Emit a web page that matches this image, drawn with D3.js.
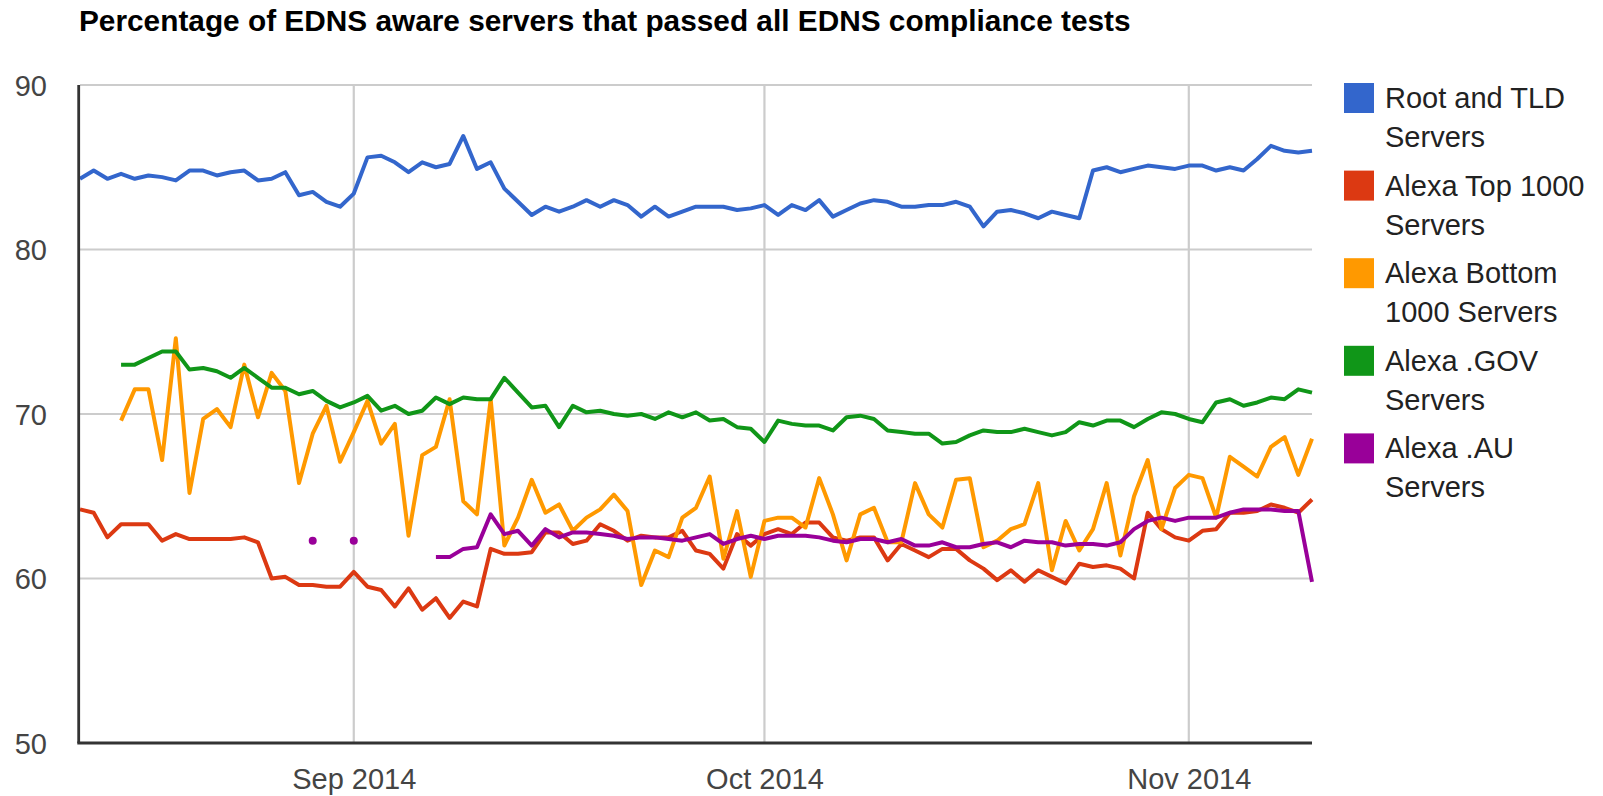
<!DOCTYPE html>
<html>
<head>
<meta charset="utf-8">
<script src="https://cdn.jsdelivr.net/npm/d3@7"></script>
<style>
  body { margin: 0; background: #fff; }
  svg { font-family: Arial, "Liberation Sans", sans-serif; }
  .title { font-weight: bold; font-size: 29.8px; fill: #000; }
  .tick text { font-size: 29px; fill: #444; }
  .legend text { font-size: 29px; fill: #222; }
</style>
</head>
<body>
<div id="chart-container"></div>
<script>
// daily samples, 12 Aug 2014 .. 10 Nov 2014
let dates = d3.timeDay.range(new Date(2014, 7, 12), new Date(2014, 10, 11));

let rootTld = [84.3, 84.8, 84.3, 84.6, 84.3, 84.5, 84.4, 84.2, 84.8, 84.8, 84.5, 84.7, 84.8, 84.2, 84.3, 84.7,
    83.3, 83.5, 82.9, 82.6, 83.4, 85.6, 85.7, 85.3, 84.7, 85.3, 85.0, 85.2, 86.9, 84.9, 85.3, 83.7,
    82.9, 82.1, 82.6, 82.3, 82.6, 83.0, 82.6, 83.0, 82.7, 82.0, 82.6, 82.0, 82.3, 82.6, 82.6, 82.6,
    82.4, 82.5, 82.7, 82.1, 82.7, 82.4, 83.0, 82.0, 82.4, 82.8, 83.0, 82.9, 82.6, 82.6, 82.7, 82.7,
    82.9, 82.6, 81.4, 82.3, 82.4, 82.2, 81.9, 82.3, 82.1, 81.9, 84.8, 85.0, 84.7, 84.9, 85.1, 85.0,
    84.9, 85.1, 85.1, 84.8, 85.0, 84.8, 85.5, 86.3, 86.0, 85.9, 86.0];

let alexaTop = [64.2, 64.0, 62.5, 63.3, 63.3, 63.3, 62.3, 62.7, 62.4, 62.4, 62.4, 62.4, 62.5, 62.2, 60.0, 60.1,
    59.6, 59.6, 59.5, 59.5, 60.4, 59.5, 59.3, 58.3, 59.4, 58.1, 58.8, 57.6, 58.6, 58.3, 61.8, 61.5,
    61.5, 61.6, 62.8, 62.8, 62.1, 62.3, 63.3, 62.9, 62.3, 62.6, 62.5, 62.5, 62.9, 61.7, 61.5, 60.6,
    62.7, 62.0, 62.7, 63.0, 62.7, 63.4, 63.4, 62.5, 62.3, 62.5, 62.5, 61.1, 62.1, 61.7, 61.3, 61.8,
    61.8, 61.1, 60.6, 59.9, 60.5, 59.8, 60.5, 60.1, 59.7, 60.9, 60.7, 60.8, 60.6, 60.0, 64.0, 63.0,
    62.5, 62.3, 62.9, 63.0, 64.0, 64.0, 64.1, 64.5, 64.3, 64.0, 64.8];

let alexaBottom = [null, null, null, 69.6, 71.5, 71.5, 67.2, 74.6, 65.2, 69.7, 70.3, 69.2, 73.0, 69.8, 72.5, 71.4,
    65.8, 68.8, 70.5, 67.1, 68.9, 70.8, 68.2, 69.4, 62.6, 67.5, 68.0, 70.9, 64.7, 63.9, 70.9, 62.0,
    63.7, 66.0, 64.0, 64.5, 62.9, 63.7, 64.2, 65.1, 64.1, 59.6, 61.7, 61.3, 63.7, 64.3, 66.2, 61.2,
    64.1, 60.1, 63.5, 63.7, 63.7, 63.1, 66.1, 63.9, 61.1, 63.9, 64.3, 62.2, 62.2, 65.8, 63.9, 63.1,
    66.0, 66.1, 61.9, 62.3, 63.0, 63.3, 65.8, 60.5, 63.5, 61.7, 63.0, 65.8, 61.4, 65.0, 67.2, 63.0,
    65.5, 66.3, 66.1, 63.7, 67.4, 66.8, 66.2, 68.0, 68.6, 66.3, 68.5];

let alexaGov = [null, null, null, 73.0, 73.0, 73.4, 73.8, 73.8, 72.7, 72.8, 72.6, 72.2, 72.8, 72.2, 71.6, 71.6,
    71.2, 71.4, 70.8, 70.4, 70.7, 71.1, 70.2, 70.5, 70.0, 70.2, 71.0, 70.6, 71.0, 70.9, 70.9, 72.2,
    71.3, 70.4, 70.5, 69.2, 70.5, 70.1, 70.2, 70.0, 69.9, 70.0, 69.7, 70.1, 69.8, 70.1, 69.6, 69.7,
    69.2, 69.1, 68.3, 69.6, 69.4, 69.3, 69.3, 69.0, 69.8, 69.9, 69.7, 69.0, 68.9, 68.8, 68.8, 68.2,
    68.3, 68.7, 69.0, 68.9, 68.9, 69.1, 68.9, 68.7, 68.9, 69.5, 69.3, 69.6, 69.6, 69.2, 69.7, 70.1,
    70.0, 69.7, 69.5, 70.7, 70.9, 70.5, 70.7, 71.0, 70.9, 71.5, 71.3];

let alexaAu = [null, null, null, null, null, null, null, null, null, null, null, null, null, null, null, null,
    null, 62.3, null, null, 62.3, null, null, null, null, null, 61.3, 61.3, 61.8, 61.9, 63.9, 62.7,
    62.9, 62.0, 63.0, 62.5, 62.8, 62.8, 62.7, 62.6, 62.4, 62.5, 62.5, 62.4, 62.3, 62.5, 62.7, 62.1,
    62.4, 62.6, 62.4, 62.6, 62.6, 62.6, 62.5, 62.3, 62.2, 62.4, 62.4, 62.2, 62.4, 62.0, 62.0, 62.2,
    61.9, 61.9, 62.1, 62.2, 61.9, 62.3, 62.2, 62.2, 62.0, 62.1, 62.1, 62.0, 62.2, 63.0, 63.5, 63.7,
    63.5, 63.7, 63.7, 63.7, 64.0, 64.2, 64.2, 64.2, 64.1, 64.1, 59.8];

let seriesNames = [["Root and TLD", "Servers"], ["Alexa Top 1000", "Servers"], ["Alexa Bottom", "1000 Servers"],
    ["Alexa .GOV", "Servers"], ["Alexa .AU", "Servers"]];
let seriesValues = [rootTld, alexaTop, alexaBottom, alexaGov, alexaAu];
let colors = ["#3366cc", "#dc3912", "#ff9900", "#109618", "#990099"];

let yTicks = [50, 60, 70, 80, 90];
let xTicks = [new Date(2014, 8, 1), new Date(2014, 9, 1), new Date(2014, 10, 1)];
let titleText = "Percentage of EDNS aware servers that passed all EDNS compliance tests";

let margin = {top: 85, right: 291, bottom: 53, left: 80};
let W = 1603, H = 796;
let width = W - margin.left - margin.right;
let height = H - margin.top - margin.bottom;

let svg = d3.select('#chart-container').append('svg')
    .attr('width', W)
    .attr('height', H);

svg.append('text')
    .attr('class', 'title')
    .attr('x', 79)
    .attr('y', 31)
    .text(titleText);

let g = svg.append('g')
    .attr('transform', 'translate(' + margin.left + ',' + margin.top + ')');

let x = d3.scaleTime()
    .domain([dates[0], dates[dates.length - 1]])
    .range([0, width]);

let y = d3.scaleLinear()
    .domain([50, 90])
    .range([height, 0]);

// gridlines
g.selectAll('line.hgrid')
    .data(yTicks.slice(1))
    .enter().append('line')
    .attr('class', 'hgrid')
    .attr('x1', 0).attr('x2', width)
    .attr('y1', d => y(d)).attr('y2', d => y(d))
    .attr('stroke', '#cccccc')
    .attr('stroke-width', 2.2);

g.selectAll('line.vgrid')
    .data(xTicks)
    .enter().append('line')
    .attr('class', 'vgrid')
    .attr('x1', d => x(d)).attr('x2', d => x(d))
    .attr('y1', 0).attr('y2', height)
    .attr('stroke', '#cccccc')
    .attr('stroke-width', 2.2);

// axes
let yAxis = g.append('g')
    .call(d3.axisLeft(y).tickValues(yTicks).tickSize(0).tickPadding(33));
yAxis.select('.domain').remove();
yAxis.selectAll('text').attr('dy', '0.35em');

let xAxis = g.append('g')
    .attr('transform', 'translate(0,' + height + ')')
    .call(d3.axisBottom(x).tickValues(xTicks).tickSize(0).tickPadding(0)
        .tickFormat(d3.timeFormat('%b %Y')));
xAxis.select('.domain').remove();
xAxis.selectAll('text').attr('y', 46).attr('dy', 0);

// series lines
let line = d3.line()
    .defined(d => d.v != null)
    .x(d => x(d.date))
    .y(d => y(d.v));

seriesValues.forEach(function(vals, k) {
    let pts = vals.map((v, i) => ({date: dates[i], v: v}));
    g.append('path')
        .datum(pts)
        .attr('fill', 'none')
        .attr('stroke', colors[k])
        .attr('stroke-width', 4)
        .attr('stroke-linejoin', 'round')
        .attr('d', line);

    // isolated points show up as dots
    let lonely = pts.filter((d, i) => d.v != null &&
        (i === 0 || vals[i - 1] == null) && (i === vals.length - 1 || vals[i + 1] == null));
    g.selectAll(null)
        .data(lonely)
        .enter().append('circle')
        .attr('cx', d => x(d.date))
        .attr('cy', d => y(d.v))
        .attr('r', 4)
        .attr('fill', colors[k]);
});

// baselines
g.append('line')
    .attr('x1', -1.3).attr('x2', -1.3)
    .attr('y1', 0).attr('y2', height)
    .attr('stroke', '#333')
    .attr('stroke-width', 2.8);
g.append('line')
    .attr('x1', -2.7).attr('x2', width)
    .attr('y1', height).attr('y2', height)
    .attr('stroke', '#333')
    .attr('stroke-width', 3);

// legend
let legend = svg.append('g')
    .attr('class', 'legend')
    .attr('transform', 'translate(1344,83)');

let item = legend.selectAll('g')
    .data(seriesNames)
    .enter().append('g')
    .attr('transform', (d, i) => 'translate(0,' + (i * 87.6) + ')');

item.append('rect')
    .attr('width', 30)
    .attr('height', 30)
    .attr('fill', (d, i) => colors[i]);

item.append('text')
    .attr('x', 41)
    .attr('y', 25)
    .selectAll('tspan')
    .data(d => d)
    .enter().append('tspan')
    .attr('x', 41)
    .attr('dy', (d, i) => i === 0 ? 0 : 39)
    .text(d => d);
</script>
</body>
</html>
